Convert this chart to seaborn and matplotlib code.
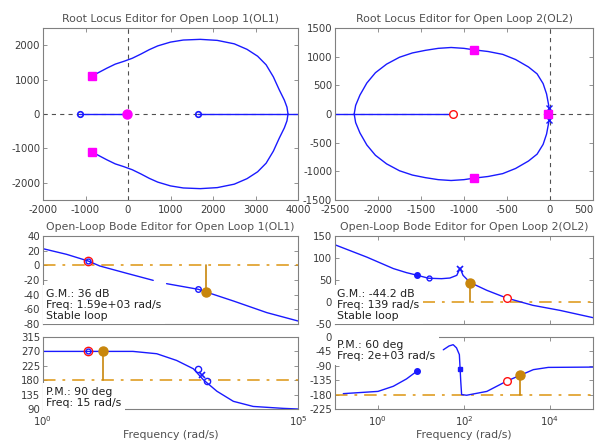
"""SISO design task view: two root locus editors and two open-loop Bode editors."""

import matplotlib

matplotlib.use("Agg")
import matplotlib.pyplot as plt
import seaborn as sns

# --------------------------------------------------------------------------- #
# Data
# --------------------------------------------------------------------------- #

# Root locus OL1 (upper / lower branch, real-axis segments)
rl1_up_x = [-850, -700, -500, -300, -100, 100, 300, 500, 700, 1000, 1300, 1700,
            2100, 2500, 2800, 3050, 3250, 3420, 3560, 3680, 3740, 3765]
rl1_up_y = [1100, 1200, 1330, 1450, 1530, 1620, 1740, 1870, 1980, 2090, 2150, 2170,
            2140, 2040, 1880, 1680, 1430, 1080, 700, 400, 200, 0]
rl1_lo_x = [-850, -700, -500, -300, -100, 100, 300, 500, 700, 1000, 1300, 1700,
            2100, 2500, 2800, 3050, 3250, 3420, 3560, 3680, 3740, 3765]
rl1_lo_y = [-1100, -1200, -1330, -1450, -1530, -1620, -1740, -1870, -1980, -2090, -2150, -2170,
            -2140, -2040, -1880, -1680, -1430, -1080, -700, -400, -200, 0]
rl1_axis_a = [-1120, -20]
rl1_axis_b = [1640, 4000]
rl1_zeros_x = [-1120, 1640]
rl1_cl_sq_x = [-850, -850]
rl1_cl_sq_y = [1100, -1100]
rl1_cl_dot = (-20, 0)

# Root locus OL2
rl2_up_x = [-5, -15, -40, -80, -150, -250, -400, -550, -720, -879, -1000, -1150,
            -1300, -1450, -1600, -1750, -1900, -2030, -2130, -2210, -2260, -2277]
rl2_up_y = [0, 150, 350, 530, 700, 820, 950, 1040, 1090, 1118, 1145, 1160,
            1145, 1110, 1065, 990, 870, 720, 540, 330, 150, 0]
rl2_lo_x = [-5, -15, -40, -80, -150, -250, -400, -550, -720, -879, -1000, -1150,
            -1300, -1450, -1600, -1750, -1900, -2030, -2130, -2210, -2260, -2277]
rl2_lo_y = [0, -150, -350, -530, -700, -820, -950, -1040, -1090, -1118, -1145, -1160,
            -1145, -1110, -1065, -990, -870, -720, -540, -330, -150, 0]
rl2_axis = [-2500, -1133]
rl2_zero = (-1133, 0)
rl2_cl_sq_x = [-879, -879, -20]
rl2_cl_sq_y = [1118, -1118, 0]
rl2_poles_x = [-8, -8]
rl2_poles_y = [110, -110]

# Bode OL1 magnitude (two segments) and phase
b1m_f1 = [1.0, 2.9, 7.7, 13, 44, 145]
b1m_db1 = [22.7, 15, 5.9, -0.9, -10.9, -20.5]
b1m_f2 = [265, 1110, 1590, 5400, 24500, 1e5]
b1m_db2 = [-25, -32.7, -36.4, -48.6, -64.5, -75.9]
b1_gm = (1590, -36.0)
b1_cl = (7.7, 5.9)
b1_ol = (1110, -32.7)

b1p_f = [1.0, 58, 170, 417, 890, 1380, 2570, 5400, 13200, 51000, 1e5]
b1p_deg = [270, 270, 262.7, 241.7, 215.6, 182, 145.5, 114, 98, 92, 90]
b1_pm = (15, 270)
b1p_cl = (7.7, 270)
b1p_ol_f = [1110, 1620]
b1p_ol_deg = [215, 179]
b1p_x = (1330, 195)

# Bode OL2 magnitude and phase (two segments)
b2m_f = [0.1, 0.55, 2.27, 4.6, 8, 15, 30, 47, 68, 81, 95, 139, 340, 980, 4000, 17000, 1e5]
b2m_db = [130, 102, 76, 66.7, 61, 54, 53, 54.5, 60.6, 77, 60.6, 44.2, 26.5, 9, -7.6, -19, -35.6]
b2_gm = (139, 44.2)
b2m_fill = (8, 61)
b2m_open = (15, 54)
b2m_x = (81, 76)
b2m_cl = (980, 9)

b2p_f1 = [0.156, 1.0, 2.27, 4.6, 8]
b2p_deg1 = [-177, -170, -154, -131, -107]
b2p_f2 = [33, 45, 56, 67, 78, 81, 84, 88, 115, 340, 980, 2000, 4100, 9100, 1e5]
b2p_deg2 = [-40, -28, -24, -34, -55, -97, -138, -180, -182, -170, -138, -120, -102, -95, -94]
b2_pm = (2000, -120)
b2p_fill = (8, -107)
b2p_sq = (80, -100)
b2p_cl = (980, -138)

# --------------------------------------------------------------------------- #
# Style
# --------------------------------------------------------------------------- #

BLUE = "#1a1aff"
MAGENTA = "#ff00ff"
RED = "#ff1010"
ORANGE_LINE = "#dc9410"
ORANGE_MARK = "#c8860c"
GRAY = "#808080"
TEXT = "#3a3a3a"

sns.set_theme(style="ticks")
plt.rcParams["font.family"] = ["DejaVu Sans"]
plt.rcParams["axes.unicode_minus"] = False
plt.rcParams["lines.scale_dashes"] = False
plt.rcParams["axes.edgecolor"] = GRAY
plt.rcParams["axes.linewidth"] = 0.8

W, H = 601, 447
fig = plt.figure(figsize=(W / 100, H / 100), dpi=100)


def rect(left, top, right, bottom):
    return [left / W, 1 - bottom / H, (right - left) / W, (bottom - top) / H]


def style_axes(ax, title=None):
    ax.tick_params(direction="in", length=3, width=0.6, color=GRAY, labelsize=7.3,
                   labelcolor=TEXT, top=True, right=True, pad=2)
    ax.tick_params(axis="x", pad=3.5)
    ax.minorticks_off()
    if title:
        ax.set_title(title, fontsize=7.8, color="#505050", pad=4)


def curve(ax, x, y, **kw):
    sns.lineplot(x=x, y=y, ax=ax, sort=False, estimator=None, color=BLUE,
                 linewidth=1.0, **kw)


def info_box(ax, x, y, text, va):
    ax.text(x, y, text, transform=ax.transAxes, ha="left", va=va, fontsize=7.8,
            color="#202020", linespacing=1.15, zorder=10, clip_on=False,
            bbox=dict(facecolor="white", edgecolor="none", pad=2.5))


rl_dash = dict(color="#505050", linewidth=0.8, linestyle=(0, (3, 3)), zorder=1)
dashdot = dict(color=ORANGE_LINE, linewidth=1.1, linestyle=(0, (9, 5, 2, 5)), zorder=1)

# --------------------------------------------------------------------------- #
# Root locus OL1
# --------------------------------------------------------------------------- #

ax = fig.add_axes(rect(43, 28, 298, 200))
ax.axhline(0, **rl_dash)
ax.axvline(0, **rl_dash)
curve(ax, rl1_up_x, rl1_up_y)
curve(ax, rl1_lo_x, rl1_lo_y)
curve(ax, rl1_axis_a, [0, 0])
curve(ax, rl1_axis_b, [0, 0])
ax.plot(rl1_zeros_x, [0, 0], "o", ms=4, mfc="none", mec=BLUE, mew=1.2, zorder=4)
ax.plot(rl1_cl_sq_x, rl1_cl_sq_y, "s", ms=6, color=MAGENTA, zorder=5)
ax.plot(*rl1_cl_dot, "o", ms=6.5, color=MAGENTA, zorder=5)
ax.set_xlim(-2000, 4000)
ax.set_ylim(-2500, 2500)
ax.set_xticks(range(-2000, 4001, 1000))
ax.set_yticks(range(-2000, 2001, 1000))
style_axes(ax, "Root Locus Editor for Open Loop 1(OL1)")

# --------------------------------------------------------------------------- #
# Root locus OL2
# --------------------------------------------------------------------------- #

ax = fig.add_axes(rect(335, 28, 593, 200))
ax.axhline(0, **rl_dash)
ax.axvline(0, **rl_dash)
curve(ax, rl2_up_x, rl2_up_y)
curve(ax, rl2_lo_x, rl2_lo_y)
curve(ax, rl2_axis, [0, 0])
ax.plot(*rl2_zero, "o", ms=5.5, mfc="white", mec=RED, mew=1.0, zorder=4)
ax.plot(rl2_poles_x, rl2_poles_y, "x", ms=4, color=BLUE, mew=1.0, zorder=4)
ax.plot(rl2_cl_sq_x, rl2_cl_sq_y, "s", ms=6, color=MAGENTA, zorder=5)
ax.set_xlim(-2500, 500)
ax.set_ylim(-1500, 1500)
ax.set_xticks(range(-2500, 501, 500))
ax.set_yticks(range(-1500, 1501, 500))
style_axes(ax, "Root Locus Editor for Open Loop 2(OL2)")
ax.get_xticklabels()[-1].set_horizontalalignment("right")

# --------------------------------------------------------------------------- #
# Bode OL1
# --------------------------------------------------------------------------- #

ax = fig.add_axes(rect(43, 236, 298, 324))
ax.set_xscale("log")
ax.axhline(0, **dashdot)
curve(ax, b1m_f1, b1m_db1)
curve(ax, b1m_f2, b1m_db2)
ax.plot([b1_gm[0]] * 2, [0, b1_gm[1]], color=ORANGE_MARK, lw=1.2, zorder=3)
ax.plot(*b1_gm, "o", ms=6.5, color=ORANGE_MARK, zorder=5)
ax.plot(*b1_cl, "o", ms=6, mfc="none", mec=RED, mew=1.0, zorder=4)
ax.plot(*b1_cl, "o", ms=3.5, mfc="none", mec=BLUE, mew=1.0, zorder=4)
ax.plot(*b1_ol, "o", ms=4, mfc="none", mec=BLUE, mew=1.0, zorder=4)
ax.set_xlim(1, 1e5)
ax.set_ylim(-80, 40)
ax.set_yticks(range(-80, 41, 20))
ax.set_xticks([1, 1e5])
ax.set_xticklabels([])
style_axes(ax, "Open-Loop Bode Editor for Open Loop 1(OL1)")
info_box(ax, 0.012, 0.035, "G.M.: 36 dB\nFreq: 1.59e+03 rad/s\nStable loop", "bottom")

ax = fig.add_axes(rect(43, 337, 298, 409))
ax.set_xscale("log")
ax.axhline(180, **dashdot)
curve(ax, b1p_f, b1p_deg)
ax.plot([b1_pm[0]] * 2, [180, b1_pm[1]], color=ORANGE_MARK, lw=1.2, zorder=3)
ax.plot(*b1_pm, "o", ms=6.5, color=ORANGE_MARK, zorder=5)
ax.plot(*b1p_cl, "o", ms=6, mfc="none", mec=RED, mew=1.0, zorder=4)
ax.plot(*b1p_cl, "o", ms=3.5, mfc="none", mec=BLUE, mew=1.0, zorder=4)
ax.plot(b1p_ol_f, b1p_ol_deg, "o", ms=4.5, mfc="none", mec=BLUE, mew=1.0, lw=0, zorder=4)
ax.plot(*b1p_x, "x", ms=4, color=BLUE, mew=1.2, zorder=4)
ax.set_xlim(1, 1e5)
ax.set_ylim(90, 315)
ax.set_yticks(range(90, 316, 45))
ax.set_xticks([1, 1e5])
ax.set_xticklabels([r"$10^{0}$", r"$10^{5}$"])
style_axes(ax)
ax.set_xlabel("Frequency (rad/s)", fontsize=7.8, color="#505050", labelpad=2)
info_box(ax, 0.012, 0.015, "P.M.: 90 deg\nFreq: 15 rad/s", "bottom")

# --------------------------------------------------------------------------- #
# Bode OL2
# --------------------------------------------------------------------------- #

ax = fig.add_axes(rect(335, 236, 593, 324))
ax.set_xscale("log")
ax.axhline(0, **dashdot)
curve(ax, b2m_f, b2m_db)
ax.plot([b2_gm[0]] * 2, [0, b2_gm[1]], color=ORANGE_MARK, lw=1.2, zorder=3)
ax.plot(*b2_gm, "o", ms=6.5, color=ORANGE_MARK, zorder=5)
ax.plot(*b2m_fill, "o", ms=4, color=BLUE, zorder=4)
ax.plot(*b2m_open, "o", ms=3.5, mfc="none", mec=BLUE, mew=1.0, zorder=4)
ax.plot(*b2m_x, "x", ms=4, color=BLUE, mew=1.2, zorder=4)
ax.plot(*b2m_cl, "o", ms=5.5, mfc="white", mec=RED, mew=1.0, zorder=4)
ax.set_xlim(0.1, 1e5)
ax.set_ylim(-50, 150)
ax.set_yticks(range(-50, 151, 50))
ax.set_xticks([1, 100, 1e4])
ax.set_xticklabels([])
style_axes(ax, "Open-Loop Bode Editor for Open Loop 2(OL2)")
info_box(ax, 0.008, 0.035, "G.M.: -44.2 dB\nFreq: 139 rad/s\nStable loop", "bottom")

ax = fig.add_axes(rect(335, 337, 593, 409))
ax.set_xscale("log")
ax.axhline(-180, **dashdot)
curve(ax, b2p_f1, b2p_deg1)
curve(ax, b2p_f2, b2p_deg2)
ax.plot([b2_pm[0]] * 2, [-180, b2_pm[1]], color=ORANGE_MARK, lw=1.2, zorder=3)
ax.plot(*b2_pm, "o", ms=6.5, color=ORANGE_MARK, zorder=5)
ax.plot(*b2p_fill, "o", ms=4, color=BLUE, zorder=4)
ax.plot(*b2p_sq, "s", ms=3.5, color=BLUE, zorder=4)
ax.plot(*b2p_cl, "o", ms=5.5, mfc="white", mec=RED, mew=1.0, zorder=4)
ax.set_xlim(0.1, 1e5)
ax.set_ylim(-225, 0)
ax.set_yticks(range(-225, 1, 45))
ax.set_xticks([1, 100, 1e4])
ax.set_xticklabels([r"$10^{0}$", r"$10^{2}$", r"$10^{4}$"])
style_axes(ax)
ax.set_xlabel("Frequency (rad/s)", fontsize=7.8, color="#505050", labelpad=2)
info_box(ax, 0.008, 0.96, "P.M.: 60 deg\nFreq: 2e+03 rad/s", "top")

fig.savefig("out.png", dpi=100)
